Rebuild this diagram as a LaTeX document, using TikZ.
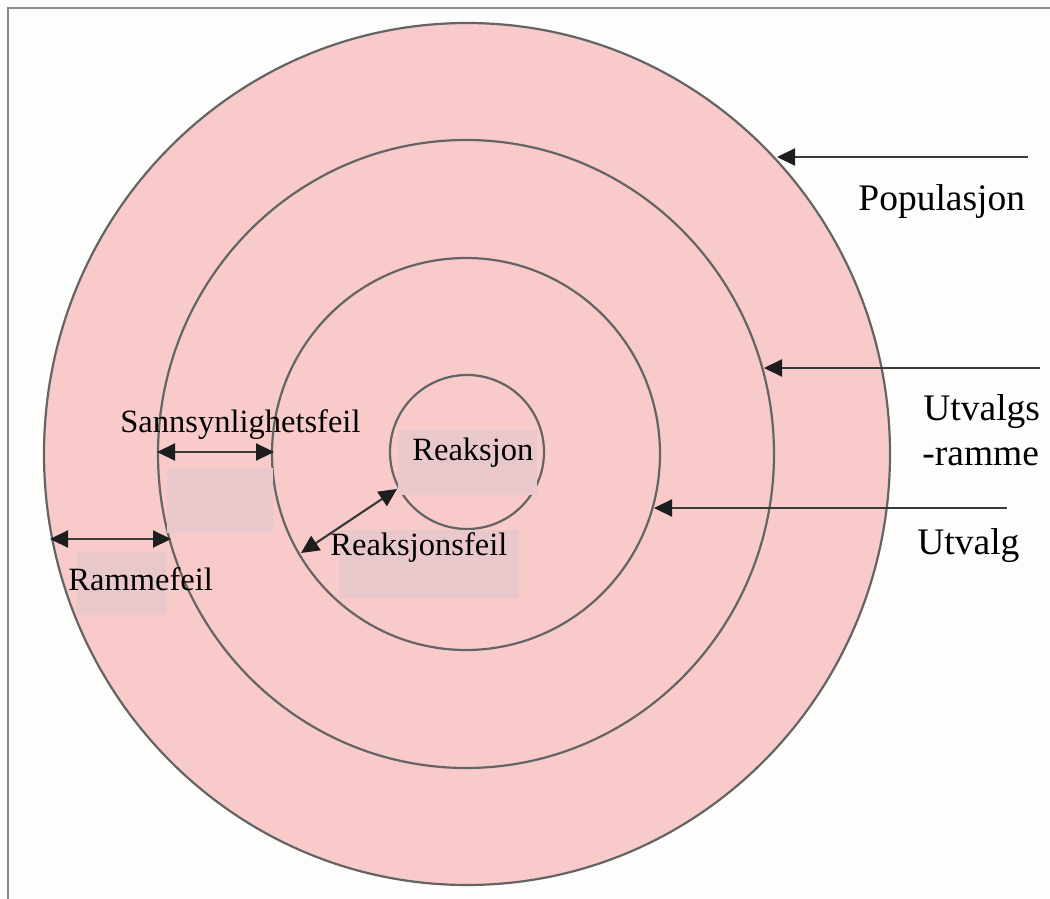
\documentclass[tikz,border=0pt]{standalone}
\usepackage{fontspec}
\setmainfont{Liberation Serif}
\usetikzlibrary{arrows.meta}
\definecolor{ringfill}{HTML}{F8CACA}
\definecolor{ringline}{HTML}{646464}
\definecolor{patchfill}{HTML}{E9C8CC}
\definecolor{framegray}{HTML}{8A8A8A}
\definecolor{darkline}{HTML}{3A3A3A}
\definecolor{headfill}{HTML}{1E1E1E}
\definecolor{pagewhite}{HTML}{FDFDFC}
\begin{document}
\begin{tikzpicture}[x=0.5pt,y=-0.5pt,
  ring/.style={draw=ringline, line width=1.1pt, fill=ringfill},
  patchbox/.style={fill=patchfill, draw=none},
  tip/.tip={Triangle[length=9pt,width=8.5pt,color=headfill]},
  pointer/.style={draw=darkline, line width=1.1pt, -tip},
  span/.style={draw=darkline, line width=1.1pt, tip-tip},
  lbl/.style={anchor=base west, inner sep=0pt, font=\fontsize{16.25}{19}\selectfont},
  biglbl/.style={anchor=base west, inner sep=0pt, font=\fontsize{18.75}{22}\selectfont}]
  % page and frame
  \fill[pagewhite] (0,0) rectangle (1050,899);
  \useasboundingbox (0,0) rectangle (1050,899);
  \draw[framegray, line width=0.75pt] (8,899) -- (8,8) -- (1050,8);

  % concentric regions: population, sampling frame, sample, response
  \draw[ring] (467,454) ellipse [x radius=423, y radius=431];
  \draw[ring] (466,454) ellipse [x radius=308, y radius=314];
  \draw[ring] (466,454) ellipse [x radius=194, y radius=196];
  \draw[ring] (467,452) ellipse [x radius=77, y radius=77];

  % label backing patches
  \fill[patchbox] (167,468) rectangle (273,533);
  \fill[patchbox] (77,552) rectangle (167,615);
  \fill[patchbox] (398,430) rectangle (537,495);
  \fill[patchbox] (339,530) rectangle (519,598);

  % arrow end points
  \coordinate (popS) at (1028,157);
  \coordinate (popE) at (777,157);
  \coordinate (ramS) at (1040,368);
  \coordinate (ramE) at (764,368);
  \coordinate (utvS) at (1007,508);
  \coordinate (utvE) at (654,508);
  \coordinate (sfA) at (157,452);
  \coordinate (sfB) at (274,452);
  \coordinate (rfA) at (50,539);
  \coordinate (rfB) at (171,539);
  \coordinate (rkA) at (301,553);
  \coordinate (rkB) at (397,489);

  % connectors
  \draw[pointer] (popS) -- (popE);
  \draw[pointer] (ramS) -- (ramE);
  \draw[pointer] (utvS) -- (utvE);
  \draw[span] (sfA) -- (sfB);
  \draw[span] (rfA) -- (rfB);
  \draw[span] (rkA) -- (rkB);

  % labels
  \node[biglbl] (populasjon) at (858,210) {Populasjon};
  \node[biglbl] (utvalgs) at (923,420) {Utvalgs};
  \node[biglbl] (ramme) at (922,465) {-ramme};
  \node[biglbl] (utvalg) at (917,554) {Utvalg};
  \node[lbl] (sannsyn) at (120,432) {Sannsynlighetsfeil};
  \node[lbl] (rammefeil) at (68,590) {Rammefeil};
  \node[lbl] (reaksjon) at (412,460) {Reaksjon};
  \node[lbl] (reaksjonsfeil) at (330,555) {Reaksjonsfeil};
\end{tikzpicture}
\end{document}
